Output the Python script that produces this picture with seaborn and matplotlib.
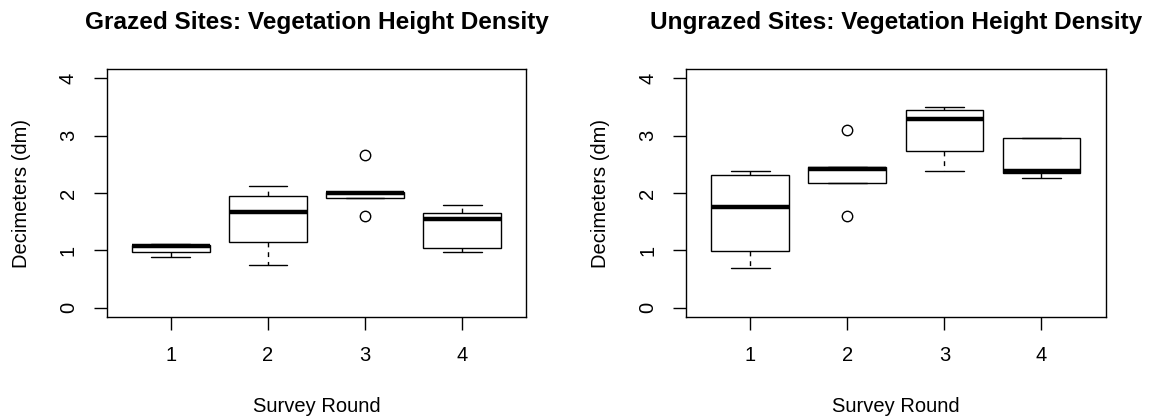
import numpy as np
import pandas as pd
import seaborn as sns
import matplotlib
matplotlib.use("Agg")
import matplotlib.pyplot as plt

rounds = ["1", "2", "3", "4"]
grazed_r1 = [0.88, 0.965, 1.07, 1.093, 1.116]
grazed_r2 = [0.744, 1.151, 1.669, 1.953, 2.128]
grazed_r3 = [1.599, 1.913, 1.994, 2.012, 2.657]
grazed_r4 = [0.971, 1.047, 1.541, 1.657, 1.791]
ungrazed_r1 = [0.686, 0.994, 1.75, 2.32, 2.384]
ungrazed_r2 = [1.599, 2.169, 2.419, 2.459, 3.105]
ungrazed_r3 = [2.384, 2.738, 3.297, 3.448, 3.506]
ungrazed_r4 = [2.267, 2.355, 2.384, 2.965, 2.965]

titles = ["Grazed Sites: Vegetation Height Density",
          "Ungrazed Sites: Vegetation Height Density"]
x_label = "Survey Round"
y_label = "Decimeters (dm)"
y_ticks = [0, 1, 2, 3, 4]

def long_frame(groups):
    rows = []
    for r, vals in zip(rounds, groups):
        for v in vals:
            rows.append({"Round": r, "Height": v})
    return pd.DataFrame(rows)

df_grazed = long_frame([grazed_r1, grazed_r2, grazed_r3, grazed_r4])
df_ungrazed = long_frame([ungrazed_r1, ungrazed_r2, ungrazed_r3, ungrazed_r4])

sns.set_style("white")
plt.rcParams["font.family"] = ["Liberation Sans", "DejaVu Sans"]
plt.rcParams["text.color"] = "black"
plt.rcParams["axes.labelcolor"] = "black"
plt.rcParams["xtick.color"] = "black"
plt.rcParams["ytick.color"] = "black"

fig = plt.figure(figsize=(11.51, 4.18), dpi=100)
W, H = 1151, 418
ax_left_px = [106.7, 686.0]
ax_w_px = 419.6
ax_top_px, ax_bot_px = 69.0, 317.0
ax_h_px = ax_bot_px - ax_top_px

base_fs = 14.5

for i, df in enumerate([df_grazed, df_ungrazed]):
    ax = fig.add_axes([ax_left_px[i] / W, 1 - ax_bot_px / H,
                       ax_w_px / W, ax_h_px / H])
    sns.boxplot(
        data=df, x="Round", y="Height", order=rounds, ax=ax,
        color="white", linecolor="black", linewidth=1.0, width=0.8,
        whis=1.5, fill=True,
        medianprops=dict(linewidth=3.2, color="black", solid_capstyle="butt"),
        whiskerprops=dict(linestyle=(0, (3.5, 3.5)), linewidth=1.0, color="black"),
        capprops=dict(linewidth=1.0, color="black"),
        boxprops=dict(linewidth=1.0, edgecolor="black", facecolor="white"),
        flierprops=dict(marker="o", markersize=7.5, markerfacecolor="none",
                        markeredgecolor="black", markeredgewidth=1.0),
    )
    ax.set_xlim(-0.66, 3.66)
    ax.set_ylim(-0.16, 4.16)
    ax.set_yticks(y_ticks)
    ax.set_yticklabels([str(t) for t in y_ticks], rotation=90, va="center")
    ax.tick_params(axis="both", direction="out", length=9.3, width=1.0,
                   color="black", labelsize=base_fs, pad=11.5, labelcolor="black",
                   left=True, bottom=True)
    for s in ax.spines.values():
        s.set_visible(True)
        s.set_color("black")
        s.set_linewidth(1.0)
    ax.set_xlabel(x_label, fontsize=base_fs, color="black")
    ax.set_ylabel(y_label, fontsize=base_fs, color="black")
    ax.xaxis.set_label_coords(0.5, (ax_bot_px - 397) / ax_h_px)
    ax.yaxis.set_label_coords((31 - ax_left_px[0]) / ax_w_px, 0.5)
    ax.set_title(titles[i], fontsize=17.6, fontweight="bold",
                 pad=29, color="black")
    ax.grid(False)

fig.savefig("out.png", dpi=100, facecolor="white")
